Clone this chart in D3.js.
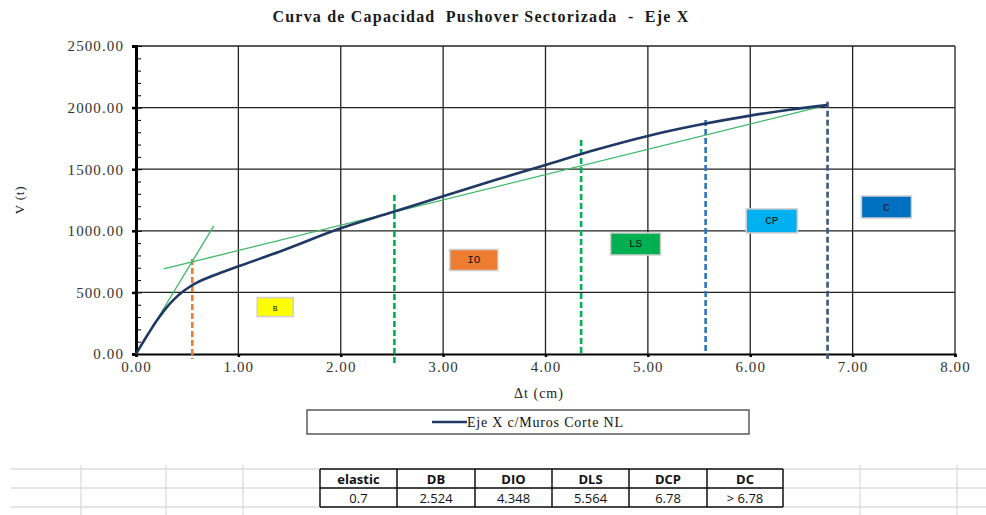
<!DOCTYPE html>
<html><head><meta charset="utf-8">
<script src="https://cdn.jsdelivr.net/npm/d3@7"></script>
<style>body{margin:0;background:#fff}svg{display:block}</style>
</head><body>
<svg id="c" width="986" height="515"></svg>
<script>
// ---- data ----
const dispX = [0, 0.05, 0.1, 0.15, 0.2, 0.25, 0.3, 0.35, 0.4, 0.45, 0.5, 0.55, 0.6, 0.75, 1.0, 1.4, 2.0, 2.5, 3.0, 3.5, 4.0, 4.5, 5.0, 5.5, 6.0, 6.4, 6.75];
const shearV = [0, 70, 138, 204, 267, 325, 378, 425, 466, 501, 532, 559, 582, 635, 712, 830, 1020, 1150, 1280, 1410, 1535, 1660, 1770, 1860, 1935, 1985, 2020];
const elasticLineX = [0, 0.76];
const elasticLineV = [0, 1040];
const secantLineX = [0.27, 6.75];
const secantLineV = [690, 2021];
const limitNames = ["elastic", "DB", "DIO", "DLS", "DCP"];
const limitX = [0.55, 2.524, 4.348, 5.564, 6.755];
const limitTop = [771, 1290, 1737, 1900, 2047];
const limitBottom = [-40, -90, 0, 0, -40];
const limitColors = ["#ED7D31", "#00B050", "#00B050", "#2E75B6", "#3A5683"];
const zoneLabels = ["B", "IO", "LS", "CP", "C"];
const zoneX = [1.36, 3.30, 4.88, 6.21, 7.33];
const zoneV = [381, 763, 893, 1080, 1193];
const zoneColors = ["#FFFF00", "#ED7D31", "#00B050", "#00B0F0", "#0070C0"];
const xTicks = [0, 1, 2, 3, 4, 5, 6, 7, 8];
const yTicks = [0, 500, 1000, 1500, 2000, 2500];
const tableHead = ["elastic", "DB", "DIO", "DLS", "DCP", "DC"];
const tableVals = ["0.7", "2.524", "4.348", "5.564", "6.78", "> 6.78"];
const seriesName = "Eje X c/Muros Corte NL";

const svg = d3.select("#c");
const x = d3.scaleLinear().domain([0, 8]).range([136, 955]);
const y = d3.scaleLinear().domain([0, 2500]).range([354, 46]);
const serif = "'Liberation Serif', 'Times New Roman', serif";

// sheet grid background
const sheetRows = [469, 488, 507];
const sheetCols = [81, 166, 243, 860, 957];
sheetRows.forEach(r => svg.append("line").attr("x1", 11).attr("x2", 986).attr("y1", r).attr("y2", r).attr("stroke", "#dcdcdc").attr("stroke-width", 1.3));
sheetCols.forEach(cx => svg.append("line").attr("x1", cx).attr("x2", cx).attr("y1", 465).attr("y2", 515).attr("stroke", "#dcdcdc").attr("stroke-width", 1.3));

// title
svg.append("text").attr("x", 481).attr("y", 22).attr("text-anchor", "middle")
  .attr("font-family", serif).attr("font-weight", "bold").attr("font-size", 16).attr("letter-spacing", 1.2)
  .attr("fill", "#1a1a1a").style("white-space", "pre").text("Curva de Capacidad  Pushover Sectorizada  -  Eje X");

// grid
const g = svg.append("g");
xTicks.slice(1).forEach(t => g.append("line").attr("x1", x(t)).attr("x2", x(t)).attr("y1", y(2500)).attr("y2", y(0)).attr("stroke", "#222").attr("stroke-width", 1.3));
yTicks.slice(1).forEach(t => g.append("line").attr("x1", x(0)).attr("x2", x(8)).attr("y1", y(t)).attr("y2", y(t)).attr("stroke", "#222").attr("stroke-width", 1.3));

// axes
const yAxis = svg.append("g").attr("transform", `translate(${x(0)},0)`)
  .call(d3.axisLeft(y).tickValues(yTicks).tickFormat(d3.format(".2f")).tickSize(4).tickPadding(8));
const minor = d3.range(0, 2501, 100).filter(v => v % 500 !== 0);
svg.append("g").attr("transform", `translate(${x(0)},0)`)
  .call(d3.axisRight(y).tickValues(minor).tickFormat("").tickSize(5))
  .call(s => s.select(".domain").remove());
svg.append("g").attr("transform", `translate(${x(0)},0)`)
  .call(d3.axisRight(y).tickValues(yTicks).tickFormat("").tickSize(6))
  .call(s => s.select(".domain").remove());
yAxis.select(".domain").attr("stroke-width", 3).attr("stroke", "#000");
yAxis.selectAll(".tick line").attr("stroke-width", 2.5);
yAxis.selectAll("text").attr("font-family", serif).attr("font-size", 15).attr("letter-spacing", 1.1).attr("fill", "#333");

const xAxis = svg.append("g").attr("transform", `translate(0,${y(0)})`)
  .call(d3.axisBottom(x).tickValues(xTicks).tickFormat(d3.format(".2f")).tickSize(3).tickPadding(4));
xAxis.select(".domain").attr("stroke-width", 2.2).attr("stroke", "#000");
xAxis.selectAll(".tick line").attr("stroke-width", 2.5);
xAxis.selectAll("text").attr("font-family", serif).attr("font-size", 15).attr("letter-spacing", 1.1).attr("fill", "#333");

// axis titles
svg.append("text").attr("transform", "translate(24,200) rotate(-90)").attr("text-anchor", "middle")
  .attr("font-family", serif).attr("font-size", 13).attr("letter-spacing", 0.8).attr("fill", "#222").text("V (t)");
svg.append("text").attr("x", 539).attr("y", 398).attr("text-anchor", "middle")
  .attr("font-family", serif).attr("font-size", 14).attr("letter-spacing", 1).attr("fill", "#222").text("Δt (cm)");

// limit vertical dashed lines
limitX.forEach((lx, i) => {
  svg.append("line").attr("x1", x(lx)).attr("x2", x(lx)).attr("y1", y(limitTop[i])).attr("y2", y(limitBottom[i]))
    .attr("stroke", limitColors[i]).attr("stroke-width", 2.6).attr("stroke-dasharray", "6,3");
});

// green reference lines
const lineGen = d3.line().x(d => x(d[0])).y(d => y(d[1]));
svg.append("path").attr("d", lineGen(d3.zip(elasticLineX, elasticLineV))).attr("fill", "none").attr("stroke", "#3CB868").attr("stroke-width", 1.3);
svg.append("path").attr("d", lineGen(d3.zip(secantLineX, secantLineV))).attr("fill", "none").attr("stroke", "#3CB868").attr("stroke-width", 1.3);

// capacity curve
const curveGen = d3.line().x(d => x(d[0])).y(d => y(d[1])).curve(d3.curveMonotoneX);
svg.append("path").attr("d", curveGen(d3.zip(dispX, shearV))).attr("fill", "none").attr("stroke", "#1F3864").attr("stroke-width", 2.6);

// zone label boxes
const boxW = [36, 48, 50, 51, 50], boxH = [19, 21, 22, 24, 22];
zoneLabels.forEach((lab, i) => {
  const cx = x(zoneX[i]), cy = y(zoneV[i]);
  svg.append("rect").attr("x", cx - boxW[i] / 2).attr("y", cy - boxH[i] / 2).attr("width", boxW[i]).attr("height", boxH[i])
    .attr("fill", zoneColors[i]).attr("stroke", "#cfcfcf").attr("stroke-width", 1.5);
  svg.append("text").attr("x", cx).attr("y", cy + 3.5).attr("text-anchor", "middle")
    .attr("font-family", "'Liberation Mono', 'DejaVu Sans Mono', monospace").attr("font-size", lab === "B" ? 8 : 11).attr("fill", "#111").text(lab);
});

// legend
svg.append("rect").attr("x", 307).attr("y", 410).attr("width", 442).attr("height", 24).attr("fill", "#fff").attr("stroke", "#333").attr("stroke-width", 1.2);
svg.append("line").attr("x1", 432).attr("x2", 467).attr("y1", 422).attr("y2", 422).attr("stroke", "#1F3864").attr("stroke-width", 2.5);
svg.append("text").attr("x", 467).attr("y", 427).attr("font-family", serif).attr("font-size", 14).attr("letter-spacing", 0.8).attr("fill", "#111").text(seriesName);

// table
const colEdges = [320, 397, 475, 552, 629, 707, 783];
const tRows = [469, 488, 507];
const tg = svg.append("g");
tableHead.forEach((h, i) => {
  const cx = (colEdges[i] + colEdges[i + 1]) / 2;
  tg.append("text").attr("x", cx).attr("y", 483.5).attr("text-anchor", "middle").attr("font-family", "'Open Sans', 'Liberation Sans', sans-serif")
    .attr("font-weight", "bold").attr("font-size", 13).attr("fill", "#111").text(h);
  tg.append("text").attr("x", cx).attr("y", 502.5).attr("text-anchor", "middle").attr("font-family", "'Open Sans', 'Liberation Sans', sans-serif")
    .attr("font-size", 13).attr("fill", "#111").text(tableVals[i]);
});
colEdges.forEach(cx => tg.append("line").attr("x1", cx).attr("x2", cx).attr("y1", tRows[0]).attr("y2", tRows[2]).attr("stroke", "#111").attr("stroke-width", 1.5));
tRows.forEach(r => tg.append("line").attr("x1", colEdges[0]).attr("x2", colEdges[6]).attr("y1", r).attr("y2", r).attr("stroke", "#111").attr("stroke-width", 1.5));
</script>
</body></html>
